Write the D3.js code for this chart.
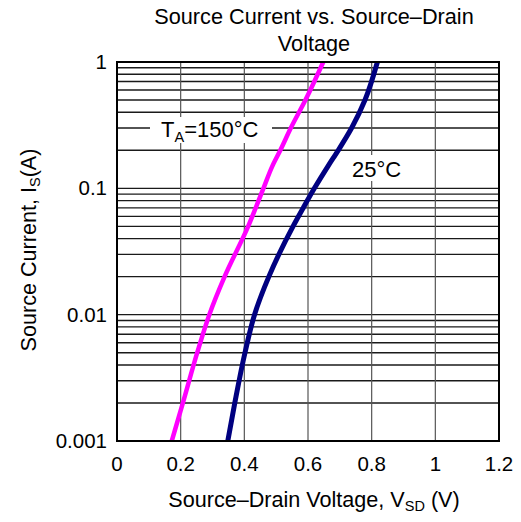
<!DOCTYPE html>
<html>
<head>
<meta charset="utf-8">
<script src="https://cdn.jsdelivr.net/npm/d3@7"></script>
<style>
  body { margin: 0; background: #fff; }
  text { font-family: "Liberation Sans", Arial, sans-serif; fill: #000; }
</style>
</head>
<body>
<svg id="chart" width="521" height="522"></svg>
<script>
// chart data
const titleLines = ["Source Current vs. Source\u2013Drain", "Voltage"];
const xTicks = [0, 0.2, 0.4, 0.6, 0.8, 1, 1.2];
const xTickLabels = ["0", "0.2", "0.4", "0.6", "0.8", "1", "1.2"];
const yTicks = [0.001, 0.01, 0.1, 1];
const yTickLabels = ["0.001", "0.01", "0.1", "1"];

// T_A = 150 C
const is150  = [0.001, 0.002, 0.005, 0.01, 0.02, 0.05, 0.1, 0.15, 0.2, 0.3, 0.5, 1];
const vsd150 = [0.172, 0.207, 0.252, 0.29, 0.338, 0.412, 0.46, 0.488, 0.513, 0.546, 0.592, 0.648];
// 25 C
const is25  = [0.001, 0.002, 0.005, 0.01, 0.02, 0.05, 0.07, 0.1, 0.15, 0.2, 0.3, 0.5, 1];
const vsd25 = [0.348, 0.37, 0.402, 0.432, 0.477, 0.553, 0.585, 0.62, 0.663, 0.695, 0.737, 0.779, 0.818];

let svg = d3.select("#chart");
let pLeft = 117, pRight = 499, pTop = 62, pBottom = 441;

let x = d3.scaleLinear().domain([0, 1.2]).range([pLeft, pRight]);
let y = d3.scaleLog().domain([0.001, 1]).range([pBottom, pTop]);

// grid
let minor = [];
[0.001, 0.01, 0.1].forEach(function(d) {
  for (let k = 2; k <= 9; k++) minor.push(d * k);
});
svg.append("g").selectAll("line").data(minor.concat([0.01, 0.1])).join("line")
  .attr("x1", pLeft).attr("x2", pRight)
  .attr("y1", d => y(d)).attr("y2", d => y(d))
  .attr("stroke", "#1a1a1a").attr("stroke-width", 1.4);
svg.append("g").selectAll("line").data(xTicks.slice(1, -1)).join("line")
  .attr("x1", d => x(d)).attr("x2", d => x(d))
  .attr("y1", pTop).attr("y2", pBottom)
  .attr("stroke", "#555").attr("stroke-width", 1.2);

// curve labels (white boxes break the grid)
svg.append("rect").attr("x", 150).attr("y", 117).attr("width", 122).attr("height", 26).attr("fill", "#fff");
let t150 = svg.append("text").attr("x", 161).attr("y", 137).attr("font-size", 22);
t150.append("tspan").text("T");
t150.append("tspan").attr("font-size", 14.5).attr("dy", 5).text("A");
t150.append("tspan").attr("dy", -5).text("=150\u00b0C");

svg.append("rect").attr("x", 348).attr("y", 155).attr("width", 60).attr("height", 26).attr("fill", "#fff");
svg.append("text").attr("x", 352).attr("y", 177).attr("font-size", 22).text("25\u00b0C");

// curves
let line = d3.line().x(d => x(d[0])).y(d => y(d[1])).curve(d3.curveMonotoneY);
svg.append("path").datum(d3.zip(vsd150, is150))
  .attr("d", line).attr("fill", "none")
  .attr("stroke", "#ff00ff").attr("stroke-width", 4.5);
svg.append("path").datum(d3.zip(vsd25, is25))
  .attr("d", line).attr("fill", "none")
  .attr("stroke", "#000080").attr("stroke-width", 5);

// frame
svg.append("rect").attr("x", pLeft).attr("y", pTop)
  .attr("width", pRight - pLeft).attr("height", pBottom - pTop)
  .attr("fill", "none").attr("stroke", "#000").attr("stroke-width", 2);

// tick labels
svg.append("g").selectAll("text").data(xTicks).join("text")
  .attr("x", d => x(d)).attr("y", 471).attr("text-anchor", "middle")
  .attr("font-size", 20.5).text((d, i) => xTickLabels[i]);
svg.append("g").selectAll("text").data(yTicks).join("text")
  .attr("x", 107).attr("y", d => y(d) + 7).attr("text-anchor", "end")
  .attr("font-size", 20.5).text((d, i) => yTickLabels[i]);

// title
svg.append("g").selectAll("text").data(titleLines).join("text")
  .attr("x", 314).attr("y", (d, i) => 24 + i * 27).attr("text-anchor", "middle")
  .attr("font-size", 21.7).text(d => d);

// axis titles
let xt = svg.append("text").attr("x", 314).attr("y", 507).attr("text-anchor", "middle").attr("font-size", 21.6);
xt.append("tspan").text("Source\u2013Drain Voltage, V");
xt.append("tspan").attr("font-size", 14.5).attr("dy", 4).text("SD");
xt.append("tspan").attr("dy", -4).text(" (V)");

let yt = svg.append("text").attr("transform", "translate(36,250) rotate(-90)")
  .attr("text-anchor", "middle").attr("font-size", 21.6);
yt.append("tspan").text("Source Current, I");
yt.append("tspan").attr("font-size", 14.5).attr("dy", 4).text("S");
yt.append("tspan").attr("dy", -4).text("(A)");
</script>
</body>
</html>
